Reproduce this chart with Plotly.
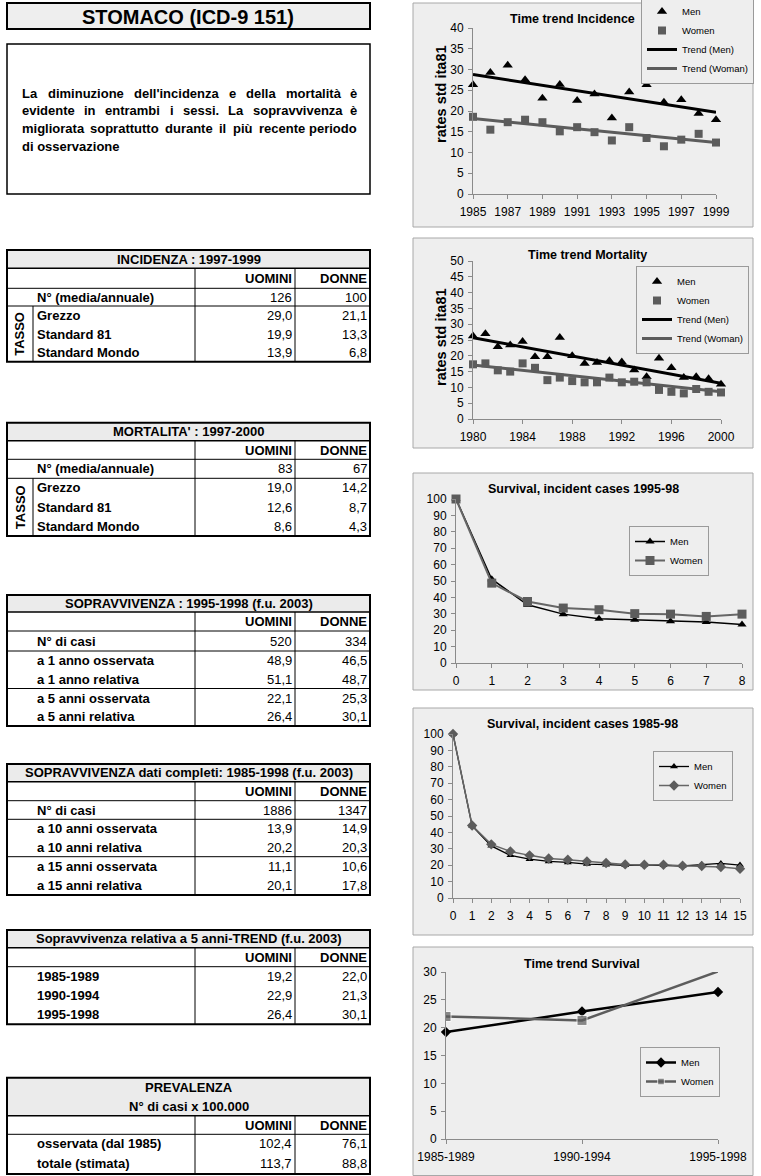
import plotly.graph_objects as go

W, H = 761, 1176


def X(p):
    return p / W


def Y(p):
    return 1 - p / H


FONT = "Liberation Sans"

# ---------------- chart data ----------------
inc_years = list(range(1985, 2000))
inc_men = [26.3, 29.3, 31.0, 27.5, 23.1, 26.4, 22.5, 24.1, 18.3, 24.6, 26.3, 22.1, 22.7, 19.4, 17.9]
inc_women = [18.6, 15.5, 17.3, 17.9, 17.3, 15.1, 16.1, 14.9, 12.9, 16.1, 13.5, 11.5, 13.1, 14.5, 12.4]
inc_trend_years = [1985, 1999]
inc_trend_men = [28.8, 19.7]
inc_trend_women = [18.2, 12.4]

mort_years = list(range(1980, 2001))
mort_men = [26.3, 27.0, 22.9, 23.4, 24.5, 19.7, 19.7, 25.8, 20.0, 17.6, 17.9,
            18.4, 18.0, 15.5, 13.4, 19.2, 16.2, 13.1, 13.4, 12.7, 11.0]
mort_women = [17.3, 17.6, 15.4, 15.0, 17.6, 16.2, 12.3, 13.1, 12.0, 11.6, 11.6,
              13.1, 11.6, 11.8, 11.6, 9.2, 8.6, 8.1, 9.5, 8.6, 8.4]
mort_trend_years = [1980, 2000]
mort_trend_men = [25.7, 11.3]
mort_trend_women = [17.1, 8.6]

surv95_years = list(range(0, 9))
surv95_men = [100, 51.1, 35.5, 29.8, 27.0, 26.4, 25.4, 25.0, 23.5]
surv95_women = [100, 48.7, 37.5, 33.5, 32.5, 30.1, 29.8, 28.4, 29.8]

surv85_years = list(range(0, 16))
surv85_men = [100, 44.0, 31.8, 26.0, 23.7, 22.3, 21.7, 20.7, 20.3, 19.9, 20.2, 19.9, 19.5, 20.3, 21.1, 20.1]
surv85_women = [100, 44.2, 32.7, 28.4, 26.0, 24.1, 23.3, 22.3, 21.3, 20.5, 20.3, 20.3, 19.7, 19.5, 18.9, 17.8]

trend_periods = ["1985-1989", "1990-1994", "1995-1998"]
trend_men = [19.2, 22.9, 26.4]
trend_women = [22.0, 21.3, 30.1]

# ---------------- table data ----------------
col_heads = ["UOMINI", "DONNE"]

inc_title = ["INCIDENZA : 1997-1999"]
inc_labels = ["N° (media/annuale)", "Grezzo", "Standard 81", "Standard Mondo"]
inc_men_tab = [126, 29.0, 19.9, 13.9]
inc_women_tab = [100, 21.1, 13.3, 6.8]

mort_title = ["MORTALITA' : 1997-2000"]
mort_labels = ["N° (media/annuale)", "Grezzo", "Standard 81", "Standard Mondo"]
mort_men_tab = [83, 19.0, 12.6, 8.6]
mort_women_tab = [67, 14.2, 8.7, 4.3]

sop_title = ["SOPRAVVIVENZA : 1995-1998 (f.u. 2003)"]
sop_labels = ["N° di casi", "a 1 anno osservata", "a 1 anno relativa", "a 5 anni osservata", "a 5 anni relativa"]
sop_men_tab = [520, 48.9, 51.1, 22.1, 26.4]
sop_women_tab = [334, 46.5, 48.7, 25.3, 30.1]

sopc_title = ["SOPRAVVIVENZA dati completi: 1985-1998 (f.u. 2003)"]
sopc_labels = ["N° di casi", "a 10 anni osservata", "a 10 anni relativa", "a 15 anni osservata", "a 15 anni relativa"]
sopc_men_tab = [1886, 13.9, 20.2, 11.1, 20.1]
sopc_women_tab = [1347, 14.9, 20.3, 10.6, 17.8]

trend_title = ["Sopravvivenza relativa a 5 anni-TREND (f.u. 2003)"]
trend_labels = trend_periods
trend_men_tab = [19.2, 22.9, 26.4]
trend_women_tab = [22.0, 21.3, 30.1]

prev_title = ["PREVALENZA", "N° di casi x 100.000"]
prev_labels = ["osservata (dal 1985)", "totale (stimata)"]
prev_men_tab = [102.4, 113.7]
prev_women_tab = [76.1, 88.8]

page_title = "STOMACO (ICD-9 151)"
desc_lines = [
    "La diminuzione dell'incidenza e della mortalità è",
    "evidente in entrambi i sessi. La sopravvivenza è",
    "migliorata soprattutto durante il più recente periodo",
    "di osservazione",
]

# ---------------- layout helpers ----------------
desc_y = [93, 111, 128.5, 146.5]
DESC_L, DESC_R, DESC_SIZE = 21, 358, 13
# approximate advance widths of Liberation Sans Bold (per 1000 em), used only to justify text
LB = {" ": 278, ".": 278, "'": 238, "a": 556, "à": 556, "b": 611, "c": 556, "d": 611,
      "e": 556, "è": 556, "g": 611, "i": 278, "l": 278, "m": 889, "n": 611, "o": 611,
      "p": 611, "r": 389, "s": 556, "t": 333, "u": 611, "ù": 611, "v": 556, "z": 500,
      "L": 611}

shapes = []
annotations = []


def line(x0, y0, x1, y1, w=1, color="black"):
    shapes.append(dict(type="line", xref="paper", yref="paper", x0=X(x0), y0=Y(y0),
                       x1=X(x1), y1=Y(y1), line=dict(color=color, width=w)))


def rect(x0, y0, x1, y1, fill="rgba(0,0,0,0)", lw=0, lc="black", layer="below"):
    shapes.append(dict(type="rect", xref="paper", yref="paper", x0=X(x0), y0=Y(y0),
                       x1=X(x1), y1=Y(y1), fillcolor=fill, layer=layer,
                       line=dict(color=lc, width=lw)))


def text(x, y, s, size=12, bold=False, anchor="left", family=FONT, angle=0, color="black"):
    annotations.append(dict(xref="paper", yref="paper", x=X(x), y=Y(y),
                            text=f"<b>{s}</b>" if bold else s, showarrow=False,
                            xanchor=anchor, yanchor="middle", borderpad=0,
                            font=dict(size=size, family=family, color=color),
                            textangle=angle))


def fmt(v):
    if isinstance(v, int):
        return str(v)
    return f"{v:.1f}".replace(".", ",")


def wwidth(w, size):
    return sum(LB.get(c, 600) for c in w) / 1000 * size


TL, TR, C1, C2 = 7, 370, 195, 295


def draw_table(top, head_bot, sub_bot, edges, title_lines, labels, men, women,
               seps=(), tasso=False):
    bottom = edges[-1]
    rect(TL, top, TR, head_bot, fill="#ebebeb")
    n = len(title_lines)
    for i, t in enumerate(title_lines):
        yc = top + (head_bot - top) * (i + 0.5) / n
        text((TL + TR) / 2, yc, t, 13, True, "center")
    yc = (head_bot + sub_bot) / 2
    text(C2 - 2, yc, col_heads[0], 13, True, "right")
    text(TR - 2, yc, col_heads[1], 13, True, "right")
    for i, lab in enumerate(labels):
        yc = (edges[i] + edges[i + 1]) / 2
        text(36, yc, lab, 13, True, "left")
        text(C2 - 2, yc, fmt(men[i]), 13, False, "right")
        text(TR - 2, yc, fmt(women[i]), 13, False, "right")
    line(TL, head_bot, TR, head_bot, 1.5)
    line(TL, sub_bot, TR, sub_bot, 1)
    for s in seps:
        line(TL, s, TR, s, 1)
    line(C1, head_bot, C1, bottom, 1)
    line(C2, head_bot, C2, bottom, 1)
    if tasso:
        line(33, edges[1], 33, bottom, 1)
        text(20, (edges[1] + bottom) / 2, "TASSO", 13, True, "center", angle=-90)
    rect(TL, top, TR, bottom, lw=2, lc="black", layer="above")


# page title and description
rect(7, 3, 370, 29, fill="#eeeeee")
rect(7, 3, 370, 29, lw=2, lc="black", layer="above")
text(188, 16.5, page_title, 20, True, "center")
rect(7, 44, 370, 194, fill="white", lw=1.5, lc="black")
for li, ln in enumerate(desc_lines):
    words = ln.split(" ")
    if li == len(desc_lines) - 1 or len(words) == 1:
        text(DESC_L, desc_y[li], ln, DESC_SIZE, True, "left")
        continue
    widths = [wwidth(w, DESC_SIZE) for w in words]
    gap = (DESC_R - DESC_L - sum(widths)) / (len(words) - 1)
    xpos = DESC_L
    for wi, w in enumerate(words):
        if wi == len(words) - 1:
            text(DESC_R, desc_y[li], w, DESC_SIZE, True, "right")
        else:
            text(xpos, desc_y[li], w, DESC_SIZE, True, "left")
        xpos += widths[wi] + gap

draw_table(250, 268.3, 288.3, [288.3, 306, 325, 343.5, 361.7], inc_title, inc_labels,
           inc_men_tab, inc_women_tab, seps=[306], tasso=True)
draw_table(422.7, 440.7, 459.3, [459.3, 478.3, 497.5, 516.5, 536], mort_title, mort_labels,
           mort_men_tab, mort_women_tab, seps=[478.3], tasso=True)
draw_table(595, 612, 631, [631, 651, 670, 688.5, 707.5, 726], sop_title, sop_labels,
           sop_men_tab, sop_women_tab, seps=[651, 688.5])
draw_table(764, 781.7, 800.7, [800.7, 819.3, 838, 856.7, 876, 895], sopc_title, sopc_labels,
           sopc_men_tab, sopc_women_tab, seps=[819.3, 856.7])
draw_table(930, 947.7, 966.7, [966.7, 986, 1005, 1024.3], trend_title, trend_labels,
           trend_men_tab, trend_women_tab)
draw_table(1077.7, 1115.7, 1134.3, [1134.3, 1153.5, 1174], prev_title, prev_labels,
           prev_men_tab, prev_women_tab)

# chart panels
PANEL = "#eeeeee"
for (t, b) in [(3, 227), (238, 448), (473, 690), (708, 935), (947, 1175.5)]:
    rect(413, t, 753, b, fill=PANEL, lw=1, lc="#a8a8a8")

# chart titles
for (x, y, s) in [(572, 19, "Time trend Incidence"), (587, 255, "Time trend Mortality"),
                  (583, 489, "Survival, incident cases 1995-98"),
                  (582, 724, "Survival, incident cases 1985-98"),
                  (582, 964, "Time trend Survival")]:
    text(x, y, s, 12.5, True, "center")
text(441, 94, "rates std ita81", 14.5, True, "center", angle=-90)
text(441, 337, "rates std ita81", 14.5, True, "center", angle=-90)

# ---------------- figure ----------------
fig = go.Figure()
MEN = "black"
WOMEN = "#5c5c5c"

# chart 1
fig.add_trace(go.Scatter(x=inc_years, y=inc_men, mode="markers", name="Men",
                         marker=dict(symbol="triangle-up", size=9, color=MEN),
                         xaxis="x", yaxis="y", legend="legend", cliponaxis=False))
fig.add_trace(go.Scatter(x=inc_years, y=inc_women, mode="markers", name="Women",
                         marker=dict(symbol="square", size=8, color=WOMEN),
                         xaxis="x", yaxis="y", legend="legend", cliponaxis=False))
fig.add_trace(go.Scatter(x=inc_trend_years, y=inc_trend_men, mode="lines", name="Trend (Men)",
                         line=dict(color=MEN, width=3), xaxis="x", yaxis="y", legend="legend"))
fig.add_trace(go.Scatter(x=inc_trend_years, y=inc_trend_women, mode="lines", name="Trend (Woman)",
                         line=dict(color=WOMEN, width=3), xaxis="x", yaxis="y", legend="legend"))
# chart 2
fig.add_trace(go.Scatter(x=mort_years, y=mort_men, mode="markers", name="Men",
                         marker=dict(symbol="triangle-up", size=9, color=MEN),
                         xaxis="x2", yaxis="y2", legend="legend2", cliponaxis=False))
fig.add_trace(go.Scatter(x=mort_years, y=mort_women, mode="markers", name="Women",
                         marker=dict(symbol="square", size=8, color=WOMEN),
                         xaxis="x2", yaxis="y2", legend="legend2", cliponaxis=False))
fig.add_trace(go.Scatter(x=mort_trend_years, y=mort_trend_men, mode="lines", name="Trend (Men)",
                         line=dict(color=MEN, width=3), xaxis="x2", yaxis="y2", legend="legend2"))
fig.add_trace(go.Scatter(x=mort_trend_years, y=mort_trend_women, mode="lines", name="Trend (Woman)",
                         line=dict(color=WOMEN, width=3), xaxis="x2", yaxis="y2", legend="legend2"))
# chart 3
fig.add_trace(go.Scatter(x=surv95_years, y=surv95_men, mode="lines+markers", name="Men",
                         line=dict(color=MEN, width=1.5),
                         marker=dict(symbol="triangle-up", size=8, color=MEN),
                         xaxis="x3", yaxis="y3", legend="legend3", cliponaxis=False))
fig.add_trace(go.Scatter(x=surv95_years, y=surv95_women, mode="lines+markers", name="Women",
                         line=dict(color="#666666", width=2),
                         marker=dict(symbol="square", size=9, color=WOMEN),
                         xaxis="x3", yaxis="y3", legend="legend3", cliponaxis=False))
# chart 4
fig.add_trace(go.Scatter(x=surv85_years, y=surv85_men, mode="lines+markers", name="Men",
                         line=dict(color=MEN, width=1.3),
                         marker=dict(symbol="triangle-up", size=7, color=MEN),
                         xaxis="x4", yaxis="y4", legend="legend4", cliponaxis=False))
fig.add_trace(go.Scatter(x=surv85_years, y=surv85_women, mode="lines+markers", name="Women",
                         line=dict(color="#666666", width=1.5),
                         marker=dict(symbol="diamond", size=8, color=WOMEN),
                         xaxis="x4", yaxis="y4", legend="legend4", cliponaxis=False))
# chart 5
fig.add_trace(go.Scatter(x=trend_periods, y=trend_men, mode="lines+markers", name="Men",
                         line=dict(color=MEN, width=2.5),
                         marker=dict(symbol="diamond", size=8, color=MEN),
                         xaxis="x5", yaxis="y5", legend="legend5", cliponaxis=False))
fig.add_trace(go.Scatter(x=trend_periods, y=trend_women, mode="lines+markers", name="Women",
                         line=dict(color=WOMEN, width=2.5),
                         marker=dict(symbol="square", size=[10, 10, 0], color=WOMEN),
                         xaxis="x5", yaxis="y5", legend="legend5", cliponaxis=True))


def axis(domain, rng, dtick=None, **kw):
    d = dict(domain=domain, range=rng, showline=True, linecolor="#8a8a8a", linewidth=1,
             ticks="outside", ticklen=4, tickcolor="#8a8a8a", showgrid=False, zeroline=False,
             automargin=False,
             tickfont=dict(family=FONT, size=12, color="black"), fixedrange=True)
    if dtick is not None:
        d["dtick"] = dtick
    d.update(kw)
    return d


chart_geo = [
    # x px range, y px range (bottom, top), x range, y range, dtick x, dtick y
    ((473, 716), (194, 28), [1985, 1999], [0, 40], 2, 5),
    ((473, 721), (419, 261), [1980, 2000], [0, 50], 4, 5),
    ((456, 742), (663, 499), [0, 8], [0, 100], 1, 10),
    ((453, 740), (898, 734), [0, 15], [0, 100], 1, 10),
    ((446, 718), (1139, 972), [0, 2], [0, 30], None, 5),
]
layout_axes = {}
for i, (xd, yd, xr, yr, dx, dy) in enumerate(chart_geo, start=1):
    sfx = "" if i == 1 else str(i)
    xkw = dict(anchor="y" + sfx, ticklabelstandoff=3)
    if i == 5:
        xkw["type"] = "category"
    else:
        xkw["tick0"] = xr[0]
    layout_axes["xaxis" + sfx] = axis([X(xd[0]), X(xd[1])], xr, dx, **xkw)
    layout_axes["yaxis" + sfx] = axis([Y(yd[0]), Y(yd[1])], yr, dy, anchor="x" + sfx, ticklabelstandoff=2)


def leg(x, y, yanchor="top"):
    return dict(x=X(x), y=Y(y), xanchor="left", yanchor=yanchor, bgcolor=PANEL,
                bordercolor="#9a9a9a", borderwidth=1, itemwidth=30, tracegroupgap=0,
                font=dict(family=FONT, size=9.5, color="black"))


fig.update_layout(
    width=W, height=H, autosize=False,
    margin=dict(l=0, r=0, t=0, b=0, pad=0, autoexpand=False),
    paper_bgcolor="white", plot_bgcolor="rgba(0,0,0,0)",
    showlegend=True,
    legend=leg(641, 84, "bottom"),
    legend2=leg(636, 266),
    legend3=leg(629, 526),
    legend4=leg(653, 751),
    legend5=leg(640, 1047),
    shapes=shapes, annotations=annotations,
    font=dict(family=FONT, color="black"),
    **layout_axes,
)

fig.write_html("out.html", config={"displayModeBar": False},
               post_script="document.body.style.margin='0';")
